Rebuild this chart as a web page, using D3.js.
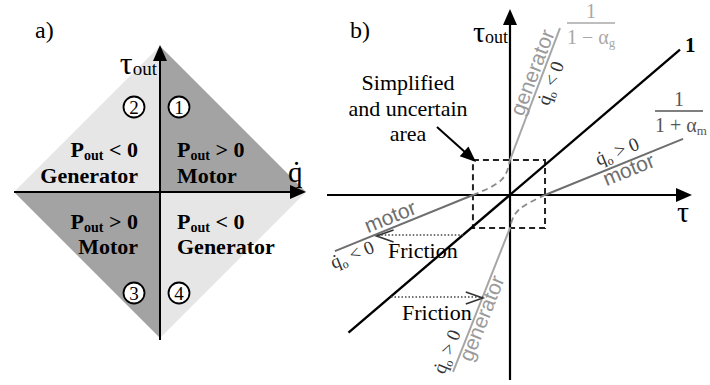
<!DOCTYPE html>
<html>
<head>
<meta charset="utf-8">
<script src="https://cdn.jsdelivr.net/npm/d3@7"></script>
<style>
  html, body { margin: 0; padding: 0; background: #fff; }
  svg { display: block; }
</style>
</head>
<body>
<script>
// ---------- Panel a: four-quadrant operation of the actuator ----------
const quadLabels  = ["1", "2", "3", "4"];
const quadSignQ   = [1, -1, -1, 1];   // sign of joint velocity q̇
const quadSignTau = [1, 1, -1, -1];   // sign of output torque τout
const quadPower   = ["> 0", "< 0", "> 0", "< 0"];
const quadMode    = ["Motor", "Generator", "Motor", "Generator"];

// ---------- Panel b: output torque τout versus input torque τ ----------
const idealLine         = [[-0.95, -0.81], [1.0, 0.855]];
const motorPosLine      = [[0.206, 0], [1.018, 0.33]];
const motorNegLine      = [[-1.03, -0.33], [-0.218, 0]];
const generatorUpLine   = [[0, 0.206], [0.294, 0.982]];
const generatorDownLine = [[-0.335, -1.04], [0, -0.194]];
const boxTau            = [-0.218, 0.206];
const boxOut            = [-0.194, 0.206];
const transitionUpper   = [[-0.218, 0], [-0.12, 0.04], [-0.045, 0.085], [-0.012, 0.145], [0, 0.206]];
const transitionLower   = [[0.206, 0], [0.12, -0.04], [0.045, -0.085], [0.012, -0.14], [0, -0.194]];
const frictionOut       = [-0.235, -0.6];
const frictionFrom      = [-0.275, -0.70];
const frictionTo        = [-0.785, -0.16];

const SERIF = "'Liberation Serif', 'Times New Roman', serif";
const SANS  = "'Liberation Sans', Arial, sans-serif";

const W = 710, H = 385;
const svg = d3.select("body").append("svg").attr("width", W).attr("height", H);

// filled triangular arrow head, tip at (x, y), pointing along angle (radians)
function arrowHead(g, x, y, ang, len, half, color) {
  const bx = x - len * Math.cos(ang), by = y - len * Math.sin(ang);
  const px = -Math.sin(ang) * half, py = Math.cos(ang) * half;
  g.append("path")
    .attr("d", `M${x},${y}L${bx + px},${by + py}L${bx - px},${by - py}Z`)
    .attr("fill", color);
}
// open chevron arrow head
function chevron(g, x, y, ang, len, half, color) {
  const bx = x - len * Math.cos(ang), by = y - len * Math.sin(ang);
  const px = -Math.sin(ang) * half, py = Math.cos(ang) * half;
  g.append("path")
    .attr("d", `M${bx + px},${by + py}L${x},${y}L${bx - px},${by - py}`)
    .attr("fill", "none").attr("stroke", color).attr("stroke-width", 1.6);
}

// ================= Panel a =================
const xa = d3.scaleLinear().domain([-1, 1]).range([14, 306]);
const ya = d3.scaleLinear().domain([-1, 1]).range([338, 46]);
const ga = svg.append("g");
const cx = xa(0), cy = ya(0);

quadLabels.forEach((lab, i) => {
  const sq = quadSignQ[i], st = quadSignTau[i];
  const dark = sq * st > 0;
  ga.append("path")
    .attr("d", `M${xa(0)},${ya(0)}L${xa(sq)},${ya(0)}L${xa(0)},${ya(st)}Z`)
    .attr("fill", dark ? "#a3a3a3" : "#e6e6e6");
});

// axes
ga.append("line").attr("x1", xa(-1)).attr("y1", cy).attr("x2", xa(1) - 10).attr("y2", cy)
  .attr("stroke", "#000").attr("stroke-width", 2);
arrowHead(ga, xa(1), cy, 0, 16, 7, "#000");
ga.append("line").attr("x1", cx).attr("y1", ya(-1) + 2).attr("x2", cx).attr("y2", ya(1) + 10)
  .attr("stroke", "#000").attr("stroke-width", 2);
arrowHead(ga, cx, ya(1) - 1, -Math.PI / 2, 16, 7, "#000");

// quadrant texts
quadLabels.forEach((lab, i) => {
  const sq = quadSignQ[i], st = quadSignTau[i];
  const left = sq < 0;
  const tx = left ? cx - 22 : cx + 17;
  const anchor = left ? "end" : "start";
  const yP = st > 0 ? cy - 35 : cy + 37;
  const yM = st > 0 ? cy - 9 : cy + 62;
  const t = ga.append("text").attr("x", tx).attr("y", yP).attr("text-anchor", anchor)
    .attr("font-family", SERIF).attr("font-weight", "bold").attr("font-size", 22);
  t.append("tspan").text("P");
  t.append("tspan").attr("font-size", 14).attr("dy", 3).text("out");
  t.append("tspan").attr("dy", -3).text(" " + quadPower[i]);
  ga.append("text").attr("x", tx).attr("y", yM).attr("text-anchor", anchor)
    .attr("font-family", SERIF).attr("font-weight", "bold").attr("font-size", 22)
    .text(quadMode[i]);
  // circled quadrant number
  const ncx = left ? cx - 26 : cx + 19;
  const ncy = st > 0 ? cy - 85 : cy + 101;
  ga.append("circle").attr("cx", ncx).attr("cy", ncy).attr("r", 10.5)
    .attr("fill", "#fff").attr("stroke", "#000").attr("stroke-width", 1.8);
  ga.append("text").attr("x", ncx).attr("y", ncy + 6.5).attr("text-anchor", "middle")
    .attr("font-family", SERIF).attr("font-size", 19).text(lab);
});

// axis titles
const tauA = ga.append("text").attr("x", cx - 3).attr("y", 74).attr("text-anchor", "end")
  .attr("font-family", SERIF).attr("font-size", 32);
tauA.append("tspan").text("τ");
tauA.append("tspan").attr("font-size", 19).attr("dy", 1).text("out");
ga.append("text").attr("x", 288).attr("y", 182)
  .attr("font-family", SERIF).attr("font-size", 29).text("q\u0307");
ga.append("text").attr("x", 35).attr("y", 38)
  .attr("font-family", SERIF).attr("font-size", 24).text("a)");

// ================= Panel b =================
const xb = d3.scaleLinear().domain([-1, 1]).range([340, 680]);
const yb = d3.scaleLinear().domain([-1, 1]).range([365, 25]);
const gb = svg.append("g");
const line = d3.line().x(d => xb(d[0])).y(d => yb(d[1]));
const curve = d3.line().x(d => xb(d[0])).y(d => yb(d[1])).curve(d3.curveBasis);
const ox = xb(0), oy = yb(0);

// axes
gb.append("line").attr("x1", 327).attr("y1", oy).attr("x2", 680).attr("y2", oy)
  .attr("stroke", "#000").attr("stroke-width", 2.2);
arrowHead(gb, 692, oy, 0, 16, 7, "#000");
gb.append("line").attr("x1", ox).attr("y1", 380).attr("x2", ox).attr("y2", 20)
  .attr("stroke", "#000").attr("stroke-width", 2.2);
arrowHead(gb, ox, 9, -Math.PI / 2, 16, 7, "#000");

// uncertain area box
gb.append("rect")
  .attr("x", xb(boxTau[0])).attr("y", yb(boxOut[1]))
  .attr("width", xb(boxTau[1]) - xb(boxTau[0])).attr("height", yb(boxOut[0]) - yb(boxOut[1]))
  .attr("fill", "none").attr("stroke", "#222").attr("stroke-width", 2)
  .attr("stroke-dasharray", "6,4");

// transition curves inside the box
[transitionUpper, transitionLower].forEach(pts => {
  gb.append("path").attr("d", curve(pts)).attr("fill", "none")
    .attr("stroke", "#8a8a8a").attr("stroke-width", 1.8).attr("stroke-dasharray", "6,4");
});

// efficiency lines
[motorPosLine, motorNegLine].forEach(pts => {
  gb.append("path").attr("d", line(pts)).attr("stroke", "#6e6e6e").attr("stroke-width", 2).attr("fill", "none");
});
[generatorUpLine, generatorDownLine].forEach(pts => {
  gb.append("path").attr("d", line(pts)).attr("stroke", "#a6a6a6").attr("stroke-width", 2).attr("fill", "none");
});
gb.append("path").attr("d", line(idealLine)).attr("stroke", "#000").attr("stroke-width", 2.4).attr("fill", "none");

// friction arrows
frictionOut.forEach((v, i) => {
  const y = yb(v), x1 = xb(frictionFrom[i]), x2 = xb(frictionTo[i]);
  gb.append("line").attr("x1", x1).attr("y1", y).attr("x2", x2).attr("y2", y)
    .attr("stroke", "#444").attr("stroke-width", 1.4).attr("stroke-dasharray", "1.5,2");
  chevron(gb, x2, y + 1, x2 < x1 ? Math.PI : 0, 17, 6, "#333");
});
gb.append("text").attr("x", 388).attr("y", 258).attr("font-family", SERIF).attr("font-size", 22).text("Friction");
gb.append("text").attr("x", 402).attr("y", 320).attr("font-family", SERIF).attr("font-size", 22).text("Friction");

// label placed along a line, at a parameter value on the given axis
function alongLabel(pts, key, val, dy, build) {
  const a = pts[0], b = pts[1];
  const idx = key === "tau" ? 0 : 1;
  const t = (val - a[idx]) / (b[idx] - a[idx]);
  const px = xb(a[0] + t * (b[0] - a[0])), py = yb(a[1] + t * (b[1] - a[1]));
  let ang = Math.atan2(yb(b[1]) - yb(a[1]), xb(b[0]) - xb(a[0])) * 180 / Math.PI;
  if (ang > 90) ang -= 180;
  if (ang < -90) ang += 180;
  const txt = gb.append("text")
    .attr("transform", `translate(${px},${py}) rotate(${ang})`)
    .attr("text-anchor", "middle").attr("y", dy);
  build(txt);
}
function qdot(txt, rel, color) {
  txt.attr("font-family", SERIF).attr("font-size", 19).attr("fill", color);
  txt.append("tspan").text("q\u0307");
  txt.append("tspan").attr("font-size", 12).attr("dy", 4).text("o");
  txt.append("tspan").attr("dy", -4).text(" " + rel);
}
function word(txt, w, color) {
  txt.attr("font-family", SANS).attr("font-size", 21).attr("fill", color).text(w);
}

alongLabel(generatorUpLine, "out", 0.70, -3, t => word(t, "generator", "#9a9a9a"));
alongLabel(generatorUpLine, "out", 0.68, 17, t => qdot(t, "< 0", "#333"));
alongLabel(generatorDownLine, "out", -0.71, 14, t => word(t, "generator", "#9a9a9a"));
alongLabel(generatorDownLine, "out", -0.95, -7, t => qdot(t, "> 0", "#333"));
alongLabel(motorPosLine, "tau", 0.66, -7, t => qdot(t, "> 0", "#333"));
alongLabel(motorPosLine, "tau", 0.68, 15, t => word(t, "motor", "#6e6e6e"));
alongLabel(motorNegLine, "tau", -0.68, -4, t => word(t, "motor", "#6e6e6e"));
alongLabel(motorNegLine, "tau", -0.95, 16, t => qdot(t, "< 0", "#333"));

// slope annotations
gb.append("text").attr("x", 685).attr("y", 52).attr("font-family", SERIF)
  .attr("font-weight", "bold").attr("font-size", 21).text("1");

function fraction(x0, x1, yBar, denomSub, sign, color) {
  gb.append("line").attr("x1", x0).attr("x2", x1).attr("y1", yBar).attr("y2", yBar)
    .attr("stroke", color).attr("stroke-width", 1.6);
  gb.append("text").attr("x", (x0 + x1) / 2).attr("y", yBar - 5).attr("text-anchor", "middle")
    .attr("font-family", SERIF).attr("font-size", 20).attr("fill", color).text("1");
  const d = gb.append("text").attr("x", x0).attr("y", yBar + 21)
    .attr("font-family", SERIF).attr("font-size", 20).attr("fill", color);
  d.append("tspan").text("1 " + sign + " α");
  d.append("tspan").attr("font-size", 13).attr("dy", 3).text(denomSub);
}
fraction(567, 615, 23, "g", "\u2212", "#a8a8a8");
fraction(655, 703, 111, "m", "+", "#555");

// axis titles
const tauB = gb.append("text").attr("x", ox - 2).attr("y", 42).attr("text-anchor", "end")
  .attr("font-family", SERIF).attr("font-size", 30);
tauB.append("tspan").text("τ");
tauB.append("tspan").attr("font-size", 18).attr("dy", 1).text("out");
gb.append("text").attr("x", 677).attr("y", 222).attr("font-family", SERIF).attr("font-size", 30).text("τ");
gb.append("text").attr("x", 350).attr("y", 38).attr("font-family", SERIF).attr("font-size", 24).text("b)");

// annotation of the simplified region
const ann = [["Simplified", 90], ["and uncertain", 116], ["area", 141]];
ann.forEach(([s, y]) => {
  gb.append("text").attr("x", 408).attr("y", y).attr("text-anchor", "middle")
    .attr("font-family", SERIF).attr("font-size", 22).text(s);
});
gb.append("line").attr("x1", 437).attr("y1", 127).attr("x2", 466).attr("y2", 153)
  .attr("stroke", "#000").attr("stroke-width", 2);
arrowHead(gb, 476, 162, Math.atan2(35, 39), 16, 6.5, "#000");
</script>
</body>
</html>
